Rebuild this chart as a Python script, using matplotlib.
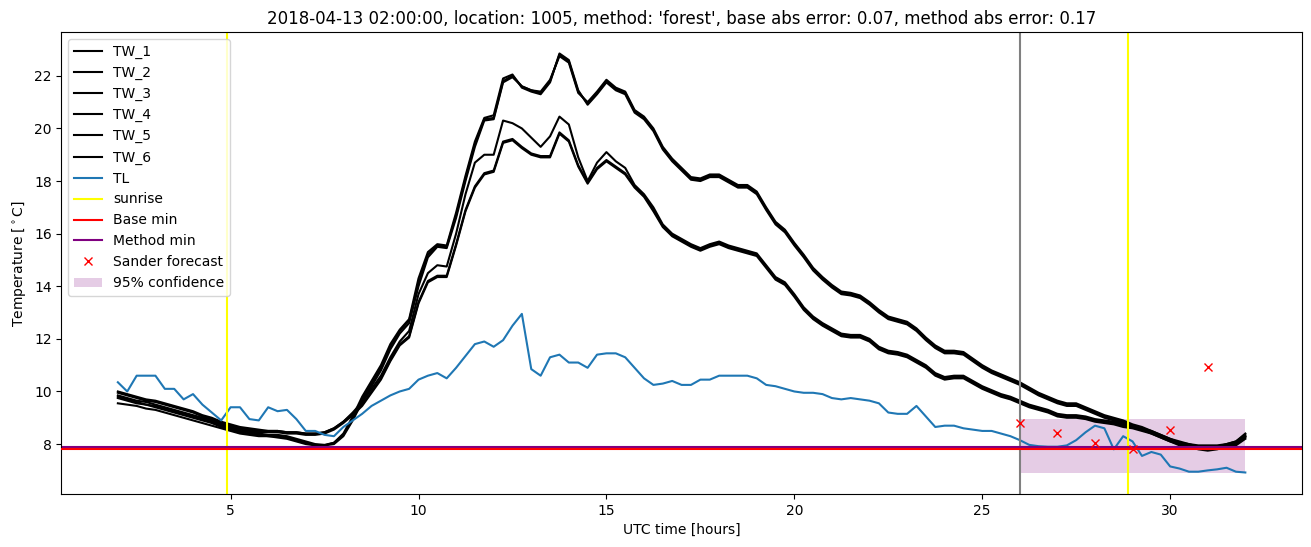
import numpy as np
import matplotlib
matplotlib.use("Agg")
import matplotlib.pyplot as plt

# time axis, 15 min steps
hours = np.arange(2, 32.001, 0.25)

tw_1 = [9.80, 9.70, 9.60, 9.50, 9.45, 9.35, 9.25, 9.15,
        9.05, 8.95, 8.85, 8.70, 8.60, 8.50, 8.45, 8.40,
        8.35, 8.35, 8.30, 8.20, 8.10, 8.00, 7.97, 8.05,
        8.35, 8.95, 9.70, 10.30, 10.90, 11.70, 12.30, 12.70,
        14.10, 15.20, 15.55, 15.50, 16.70, 18.10, 19.40, 20.35,
        20.40, 21.80, 22.00, 21.60, 21.45, 21.35, 21.80, 22.80,
        22.55, 21.40, 20.95, 21.35, 21.80, 21.50, 21.35, 20.65,
        20.40, 19.95, 19.25, 18.80, 18.45, 18.10, 18.05, 18.20,
        18.20, 18.00, 17.80, 17.80, 17.55, 16.95, 16.40, 16.10,
        15.60, 15.15, 14.65, 14.30, 14.00, 13.75, 13.70, 13.60,
        13.35, 13.05, 12.80, 12.70, 12.60, 12.35, 12.00, 11.70,
        11.50, 11.50, 11.45, 11.20, 10.95, 10.75, 10.60, 10.45,
        10.30, 10.10, 9.90, 9.75, 9.60, 9.50, 9.50, 9.35,
        9.20, 9.05, 8.95, 8.85, 8.70, 8.60, 8.45, 8.30,
        8.15, 8.00, 7.95, 7.85, 7.80, 7.85, 7.95, 8.00,
        8.30]
tw_2 = [9.75, 9.65, 9.55, 9.50, 9.40, 9.30, 9.20, 9.10,
        9.00, 8.90, 8.80, 8.65, 8.55, 8.45, 8.40, 8.35,
        8.30, 8.30, 8.25, 8.15, 8.05, 7.97, 7.95, 8.05,
        8.40, 9.05, 9.80, 10.40, 11.00, 11.80, 12.35, 12.75,
        14.30, 15.30, 15.60, 15.55, 16.80, 18.20, 19.50, 20.40,
        20.50, 21.90, 22.05, 21.55, 21.40, 21.30, 21.75, 22.85,
        22.60, 21.45, 20.90, 21.30, 21.75, 21.45, 21.30, 20.60,
        20.35, 19.90, 19.20, 18.75, 18.40, 18.05, 18.00, 18.15,
        18.15, 17.95, 17.75, 17.75, 17.50, 16.90, 16.35, 16.05,
        15.55, 15.10, 14.60, 14.25, 13.95, 13.70, 13.65, 13.55,
        13.30, 13.00, 12.75, 12.65, 12.55, 12.30, 11.95, 11.65,
        11.45, 11.45, 11.40, 11.15, 10.90, 10.70, 10.55, 10.40,
        10.25, 10.05, 9.85, 9.70, 9.55, 9.45, 9.45, 9.30,
        9.15, 9.00, 8.90, 8.80, 8.65, 8.55, 8.40, 8.25,
        8.10, 7.95, 7.90, 7.80, 7.75, 7.80, 7.90, 7.95,
        8.20]
tw_3 = [9.55, 9.50, 9.45, 9.35, 9.30, 9.20, 9.10, 9.00,
        8.90, 8.80, 8.70, 8.60, 8.50, 8.40, 8.35, 8.30,
        8.30, 8.25, 8.20, 8.10, 8.00, 7.95, 7.95, 8.00,
        8.30, 8.90, 9.60, 10.20, 10.80, 11.60, 12.20, 12.60,
        14.00, 15.10, 15.50, 15.45, 16.60, 18.00, 19.30, 20.30,
        20.35, 21.75, 21.95, 21.60, 21.45, 21.40, 21.85, 22.75,
        22.50, 21.35, 21.00, 21.40, 21.85, 21.55, 21.40, 20.70,
        20.45, 20.00, 19.30, 18.85, 18.50, 18.15, 18.10, 18.25,
        18.25, 18.05, 17.85, 17.85, 17.60, 17.00, 16.45, 16.15,
        15.65, 15.20, 14.70, 14.35, 14.05, 13.80, 13.75, 13.65,
        13.40, 13.10, 12.85, 12.75, 12.65, 12.40, 12.05, 11.75,
        11.55, 11.55, 11.50, 11.25, 11.00, 10.80, 10.65, 10.50,
        10.35, 10.15, 9.95, 9.80, 9.65, 9.55, 9.55, 9.40,
        9.25, 9.10, 9.00, 8.90, 8.75, 8.65, 8.50, 8.35,
        8.20, 8.05, 8.00, 7.90, 7.85, 7.90, 8.00, 8.10,
        8.40]
tw_4 = [10.00, 9.90, 9.80, 9.70, 9.65, 9.55, 9.45, 9.35,
        9.25, 9.10, 9.00, 8.85, 8.75, 8.65, 8.60, 8.55,
        8.50, 8.50, 8.45, 8.45, 8.40, 8.40, 8.45, 8.60,
        8.85, 9.20, 9.60, 10.10, 10.60, 11.30, 11.90, 12.30,
        13.70, 14.50, 14.80, 14.75, 16.00, 17.50, 18.70, 19.00,
        19.00, 20.30, 20.20, 20.00, 19.65, 19.30, 19.70, 20.45,
        20.15, 18.90, 18.00, 18.70, 19.10, 18.75, 18.50, 17.85,
        17.50, 17.00, 16.35, 16.00, 15.80, 15.60, 15.45, 15.60,
        15.70, 15.55, 15.45, 15.35, 15.25, 14.80, 14.35, 14.15,
        13.70, 13.20, 12.85, 12.60, 12.40, 12.20, 12.15, 12.15,
        12.00, 11.70, 11.55, 11.50, 11.40, 11.20, 11.00, 10.70,
        10.55, 10.60, 10.60, 10.40, 10.20, 10.05, 9.90, 9.80,
        9.65, 9.50, 9.40, 9.30, 9.15, 9.10, 9.10, 9.05,
        8.95, 8.90, 8.85, 8.75, 8.70, 8.60, 8.50, 8.35,
        8.20, 8.10, 8.00, 7.95, 7.95, 7.95, 8.00, 8.10,
        8.35]
tw_5 = [9.95, 9.85, 9.75, 9.65, 9.60, 9.50, 9.40, 9.30,
        9.20, 9.05, 8.95, 8.80, 8.70, 8.60, 8.55, 8.50,
        8.50, 8.50, 8.45, 8.45, 8.40, 8.40, 8.45, 8.60,
        8.85, 9.15, 9.50, 10.00, 10.50, 11.20, 11.80, 12.10,
        13.40, 14.20, 14.40, 14.40, 15.60, 16.90, 17.80, 18.30,
        18.40, 19.50, 19.60, 19.30, 19.05, 18.95, 18.95, 19.85,
        19.55, 18.60, 17.95, 18.50, 18.80, 18.55, 18.30, 17.80,
        17.45, 16.90, 16.30, 15.95, 15.75, 15.55, 15.40, 15.55,
        15.65, 15.50, 15.40, 15.30, 15.20, 14.75, 14.30, 14.10,
        13.65, 13.15, 12.80, 12.55, 12.35, 12.15, 12.10, 12.10,
        11.95, 11.65, 11.50, 11.45, 11.35, 11.15, 10.95, 10.65,
        10.50, 10.55, 10.55, 10.35, 10.15, 10.00, 9.85, 9.75,
        9.60, 9.45, 9.35, 9.25, 9.10, 9.05, 9.05, 9.00,
        8.90, 8.85, 8.80, 8.70, 8.65, 8.55, 8.45, 8.30,
        8.15, 8.05, 7.95, 7.90, 7.90, 7.90, 7.95, 8.05,
        8.30]
tw_6 = [9.85, 9.75, 9.65, 9.60, 9.50, 9.40, 9.30, 9.20,
        9.10, 9.00, 8.90, 8.75, 8.65, 8.55, 8.50, 8.45,
        8.45, 8.45, 8.40, 8.40, 8.35, 8.35, 8.40, 8.55,
        8.80, 9.10, 9.45, 9.95, 10.45, 11.15, 11.75, 12.05,
        13.35, 14.15, 14.35, 14.35, 15.55, 16.85, 17.75, 18.25,
        18.35, 19.45, 19.55, 19.25, 19.00, 18.90, 18.90, 19.80,
        19.50, 18.55, 17.90, 18.45, 18.75, 18.50, 18.25, 17.75,
        17.40, 16.85, 16.25, 15.90, 15.70, 15.50, 15.35, 15.50,
        15.60, 15.45, 15.35, 15.25, 15.15, 14.70, 14.25, 14.05,
        13.60, 13.10, 12.75, 12.50, 12.30, 12.10, 12.05, 12.05,
        11.90, 11.60, 11.45, 11.40, 11.30, 11.10, 10.90, 10.60,
        10.45, 10.50, 10.50, 10.30, 10.10, 9.95, 9.80, 9.70,
        9.55, 9.40, 9.30, 9.20, 9.05, 9.00, 9.00, 8.95,
        8.85, 8.80, 8.75, 8.65, 8.60, 8.50, 8.40, 8.25,
        8.10, 8.00, 7.90, 7.85, 7.85, 7.85, 7.90, 8.00,
        8.25]
tl = [10.35, 10.00, 10.60, 10.60, 10.60, 10.10, 10.10, 9.70,
      9.90, 9.50, 9.20, 8.90, 9.40, 9.40, 8.95, 8.90,
      9.40, 9.25, 9.30, 8.95, 8.50, 8.50, 8.35, 8.30,
      8.65, 8.90, 9.15, 9.45, 9.65, 9.85, 10.00, 10.10,
      10.45, 10.60, 10.70, 10.50, 10.90, 11.35, 11.80, 11.90,
      11.70, 11.95, 12.50, 12.95, 10.85, 10.60, 11.30, 11.40,
      11.10, 11.10, 10.90, 11.40, 11.45, 11.45, 11.30, 10.90,
      10.50, 10.25, 10.30, 10.40, 10.25, 10.25, 10.45, 10.45,
      10.60, 10.60, 10.60, 10.60, 10.50, 10.25, 10.20, 10.10,
      10.00, 9.95, 9.95, 9.90, 9.75, 9.70, 9.75, 9.70,
      9.65, 9.55, 9.20, 9.15, 9.15, 9.45, 9.05, 8.65,
      8.70, 8.70, 8.60, 8.55, 8.50, 8.50, 8.40, 8.30,
      8.15, 7.97, 7.92, 7.90, 7.90, 7.95, 8.15, 8.45,
      8.70, 8.60, 7.80, 8.30, 8.10, 7.55, 7.70, 7.60,
      7.15, 7.07, 6.95, 6.95, 7.00, 7.04, 7.10, 6.95,
      6.92]

sunrise = [4.9, 28.87]
forecast_time = 26
base_min = 7.83
method_min = 7.88
sander_hours = [26, 27, 28, 29, 30, 31]
sander_values = [8.81, 8.41, 8.05, 7.80, 8.53, 10.92]
conf_hours = [26, 32]
conf_low = 6.9
conf_high = 8.95

fig, ax = plt.subplots(figsize=(13.11, 5.47), dpi=100)
fig.subplots_adjust(left=0.0469, right=0.9929, bottom=0.0969, top=0.9406)

tw = [tw_1, tw_2, tw_3, tw_4, tw_5, tw_6]
for i, vals in enumerate(tw):
    ax.plot(hours, vals, color="black", label=f"TW_{i + 1}")
ax.plot(hours, tl, label="TL")
ax.axvline(sunrise[0], color="yellow", label="sunrise")
ax.axvline(sunrise[1], color="yellow")
ax.axhline(base_min, color="red", zorder=2.6, label="Base min")
ax.axhline(method_min, color="purple", zorder=2.5, label="Method min")
ax.axvline(forecast_time, color="gray")
ax.plot(sander_hours, sander_values, "x", color="red", zorder=3, label="Sander forecast")
ax.fill_between(conf_hours, conf_low, conf_high, color="purple", alpha=0.2,
                linewidth=0, label="95% confidence")

ax.set_xlabel("UTC time [hours]")
ax.set_ylabel(r"Temperature [$^\circ$C]")
ax.set_title("2018-04-13 02:00:00, location: 1005, method: 'forest', "
             "base abs error: 0.07, method abs error: 0.17")
ax.legend(loc="upper left")

plt.savefig("out.png")
